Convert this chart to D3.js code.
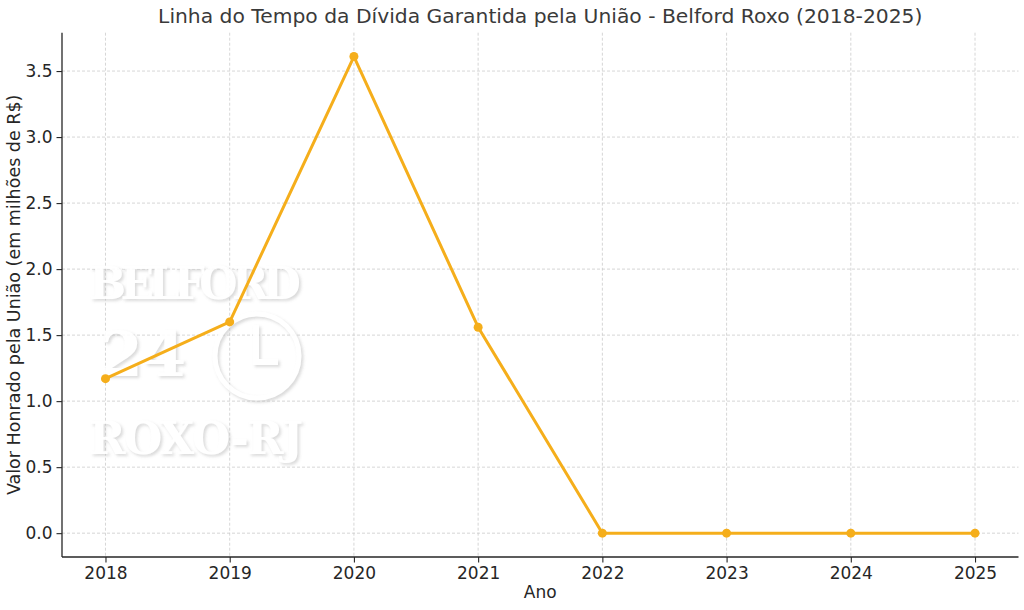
<!DOCTYPE html>
<html>
<head>
<meta charset="utf-8">
<script src="https://cdn.jsdelivr.net/npm/d3@7"></script>
<style>
  html, body { margin: 0; padding: 0; background: #fff; }
  svg { display: block; }
  text { font-family: "DejaVu Sans", sans-serif; fill: #262626; }
</style>
</head>
<body>
<svg id="chart" width="1024" height="610"></svg>
<script>
const years = [2018, 2019, 2020, 2021, 2022, 2023, 2024, 2025];
const values = [1.17, 1.60, 3.61, 1.56, 0, 0, 0, 0];
const yTicks = [0.0, 0.5, 1.0, 1.5, 2.0, 2.5, 3.0, 3.5];
const titleText = "Linha do Tempo da Dívida Garantida pela União - Belford Roxo (2018-2025)";
const xLabel = "Ano";
const yLabel = "Valor Honrado pela União (em milhões de R$)";

const svg = d3.select("#chart");
const m = { left: 62, right: 1018.5, top: 32.7, bottom: 557 };

const x = d3.scaleLinear().domain([2017.65, 2025.35]).range([m.left, m.right]);
const yMax = d3.max(values);
const yPad = yMax * 0.05;
const y = d3.scaleLinear().domain([-yPad, yMax + yPad]).range([m.bottom, m.top]);

const defs = svg.append("defs");
const f = defs.append("filter").attr("id", "wm").attr("x", "-20%").attr("y", "-20%").attr("width", "140%").attr("height", "140%");
f.append("feDropShadow").attr("dx", 2).attr("dy", 2).attr("stdDeviation", 1.5).attr("flood-color", "#bbb").attr("flood-opacity", 0.6);

// grid
const gridStyle = sel => sel.attr("stroke", "#cccccc").attr("stroke-width", 0.8).attr("stroke-dasharray", "3,2");
const grid = svg.append("g");
grid.selectAll("line.gx").data(years).enter().append("line")
  .attr("x1", d => x(d)).attr("x2", d => x(d))
  .attr("y1", m.top).attr("y2", m.bottom).call(gridStyle);
grid.selectAll("line.gy").data(yTicks).enter().append("line")
  .attr("x1", m.left).attr("x2", m.right)
  .attr("y1", d => y(d)).attr("y2", d => y(d)).call(gridStyle);

// watermark
const wm = svg.append("g").attr("filter", "url(#wm)").attr("opacity", 0.9);
wm.append("text").attr("x", 195).attr("y", 299).attr("text-anchor", "middle")
  .style("font-family", "DejaVu Serif").style("font-weight", "bold").style("font-size", "44px")
  .style("fill", "#fff").attr("textLength", 212).text("BELFORD");
wm.append("text").attr("x", 143).attr("y", 376).attr("text-anchor", "middle")
  .style("font-family", "DejaVu Serif").style("font-weight", "bold").style("font-size", "62px")
  .style("fill", "#fff").text("24");
wm.append("circle").attr("cx", 257).attr("cy", 356).attr("r", 42)
  .attr("fill", "none").attr("stroke", "#fff").attr("stroke-width", 5);
wm.append("path").attr("d", "M256,325 L256,362 L278,362")
  .attr("fill", "none").attr("stroke", "#fff").attr("stroke-width", 6);
wm.append("text").attr("x", 196).attr("y", 454).attr("text-anchor", "middle")
  .style("font-family", "DejaVu Serif").style("font-weight", "bold").style("font-size", "44px")
  .style("fill", "#fff").attr("textLength", 214).text("ROXO-RJ");

// axes
const xAxis = d3.axisBottom(x).tickValues(years).tickFormat(d3.format("d")).tickSize(5.5).tickPadding(4);
const yAxis = d3.axisLeft(y).tickValues(yTicks).tickFormat(d3.format(".1f")).tickSize(5.5).tickPadding(4);

const gx = svg.append("g").attr("transform", `translate(0,${m.bottom})`).call(xAxis);
gx.select(".domain").attr("d", `M${m.left},0H${m.right}`);
const gy = svg.append("g").attr("transform", `translate(${m.left},0)`).call(yAxis);
gy.select(".domain").attr("d", `M0,${m.top}V${m.bottom}`);
[gx, gy].forEach(g => {
  g.select(".domain").attr("stroke", "#262626").attr("stroke-width", 1.3);
  g.selectAll(".tick line").attr("stroke", "#262626").attr("stroke-width", 1.1);
  g.selectAll(".tick text").style("font-size", "17px").style("fill", "#262626").style("font-family", "DejaVu Sans");
});

// line
const line = d3.line().x((d, i) => x(years[i])).y(d => y(d));
svg.append("path").datum(values).attr("d", line)
  .attr("fill", "none").attr("stroke", "#f5ae1b").attr("stroke-width", 3).attr("stroke-linejoin", "round");
svg.selectAll("circle.pt").data(values).enter().append("circle")
  .attr("class", "pt")
  .attr("cx", (d, i) => x(years[i])).attr("cy", d => y(d)).attr("r", 4.5)
  .attr("fill", "#f5ae1b");

// labels
svg.append("text").attr("x", (m.left + m.right) / 2).attr("y", 23).attr("text-anchor", "middle")
  .style("font-size", "20.3px").style("fill", "#3a3a3a").text(titleText);
svg.append("text").attr("x", (m.left + m.right) / 2).attr("y", 598).attr("text-anchor", "middle")
  .style("font-size", "17px").text(xLabel);
svg.append("text").attr("transform", `translate(20,${(m.top + m.bottom) / 2}) rotate(-90)`)
  .attr("text-anchor", "middle").style("font-size", "17.5px").text(yLabel);
</script>
</body>
</html>
